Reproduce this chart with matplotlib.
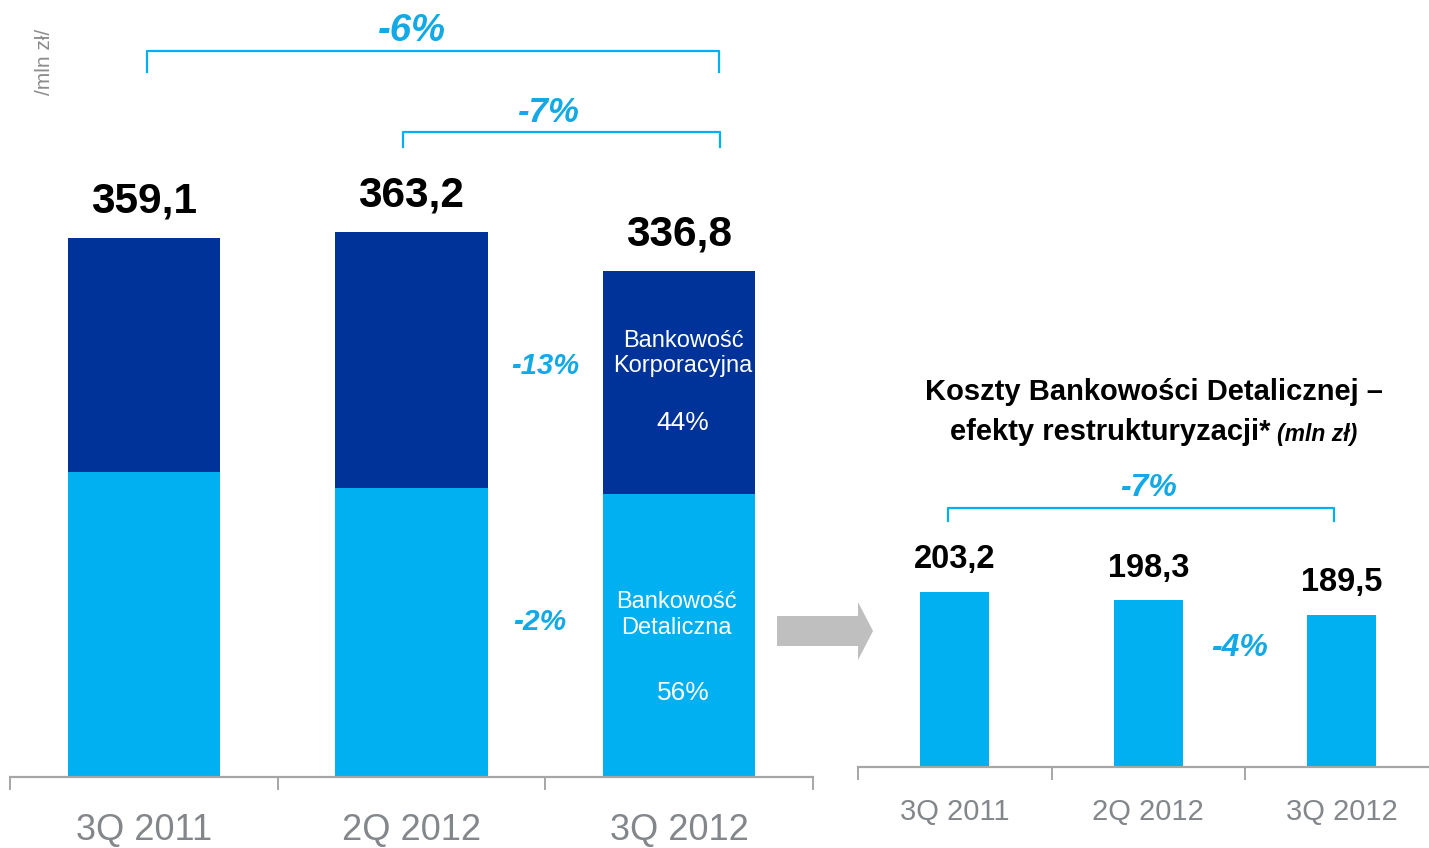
import matplotlib
matplotlib.use('Agg')
import matplotlib.pyplot as plt
from matplotlib.patches import Polygon

plt.rcParams['font.family'] = ['Liberation Sans', 'DejaVu Sans']

# dane (mln zł)
okresy = ['3Q 2011', '2Q 2012', '3Q 2012']
razem = [359.1, 363.2, 336.8]
detaliczna = [203.2, 192.4, 188.6]
korporacyjna = [r - d for r, d in zip(razem, detaliczna)]
razem_etykiety = ['359,1', '363,2', '336,8']

koszty_det = [203.2, 198.3, 189.5]
koszty_etykiety = ['203,2', '198,3', '189,5']

ciemny = '#003399'
jasny = '#00B0F0'
cyjan = '#13A9E6'
szary = '#A6A6A6'
szary_txt = '#83878B'

W, H = 1429, 848
fig = plt.figure(figsize=(W / 100, H / 100), dpi=100)


def px(x, y):
    return x / W, 1 - y / H


# lewy wykres
ax = fig.add_axes([10 / W, (H - 777) / H, 803 / W, 767 / H])
x = range(len(okresy))
ax.bar(x, detaliczna, width=0.57, color=jasny)
ax.bar(x, korporacyjna, bottom=detaliczna, width=0.57, color=ciemny)
ax.set_xlim(-0.5, 2.5)
ax.set_ylim(0, 511)
for s in ['top', 'left', 'right']:
    ax.spines[s].set_visible(False)
ax.spines['bottom'].set_color(szary)
ax.spines['bottom'].set_linewidth(1.6)
ax.set_yticks([])
ax.set_xticks(list(x))
ax.set_xticklabels(okresy, fontsize=26, color=szary_txt)
ax.tick_params(axis='x', which='major', length=0, pad=26)
ax.set_xticks([-0.5, 0.5, 1.5, 2.5], minor=True)
ax.tick_params(axis='x', which='minor', length=9, width=1.4, color=szary)

for i, v in enumerate(razem):
    ax.annotate(razem_etykiety[i], (i, v), xytext=(0, 12), textcoords='offset points',
                ha='center', va='bottom', fontsize=30.5, fontweight='bold')

ax.text(2.015, 282, 'Bankowość\nKorporacyjna', color='white', fontsize=17, ha='center', va='center')
ax.text(2.015, 236, '44%', color='white', fontsize=19, ha='center', va='center')
ax.text(1.99, 108, 'Bankowość\nDetaliczna', color='white', fontsize=17, ha='center', va='center')
ax.text(2.015, 56, '56%', color='white', fontsize=19, ha='center', va='center')

ax.text(1.5, 274, '-13%', color=cyjan, fontsize=21, fontweight='bold', style='italic', ha='center', va='center')
ax.text(1.48, 103, '-2%', color=cyjan, fontsize=21.5, fontweight='bold', style='italic', ha='center', va='center')

# klamry
ax.plot([0.011, 0.011, 2.149, 2.149], [470, 484, 484, 470], color=jasny, lw=1.6, clip_on=False)
ax.text(1.0, 497, '-6%', color=cyjan, fontsize=27.5, fontweight='bold', style='italic', ha='center', va='center')
ax.plot([0.970, 0.970, 2.153, 2.153], [420, 430, 430, 420], color=jasny, lw=1.6, clip_on=False)
ax.text(1.51, 443, '-7%', color=cyjan, fontsize=25, fontweight='bold', style='italic', ha='center', va='center')

fig.text(*px(45, 62), '/mln zł/', rotation=90, color='#8C8C8C', fontsize=15, ha='center', va='center')

# prawy wykres
ax2 = fig.add_axes([858 / W, (H - 767) / H, 580.5 / W, 397 / H])
ax2.bar(x, koszty_det, width=0.357, color=jasny)
ax2.set_xlim(-0.5, 2.5)
ax2.set_ylim(99, 335.3)
for s in ['top', 'left', 'right']:
    ax2.spines[s].set_visible(False)
ax2.spines['bottom'].set_color(szary)
ax2.spines['bottom'].set_linewidth(1.6)
ax2.set_yticks([])
ax2.set_xticks(list(x))
ax2.set_xticklabels(okresy, fontsize=21, color=szary_txt)
ax2.tick_params(axis='x', which='major', length=0, pad=22)
ax2.set_xticks([-0.5, 0.5, 1.5], minor=True)
ax2.tick_params(axis='x', which='minor', length=9, width=1.4, color=szary)

for i, v in enumerate(koszty_det):
    ax2.annotate(koszty_etykiety[i], (i, v), xytext=(0, 12), textcoords='offset points',
                 ha='center', va='bottom', fontsize=23.5, fontweight='bold')

ax2.plot([-0.035, -0.035, 1.96, 1.96], [245.4, 253.2, 253.2, 245.4], color=jasny, lw=1.6, clip_on=False)
ax2.text(1.004, 265, '-7%', color=cyjan, fontsize=23, fontweight='bold', style='italic', ha='center', va='center')
ax2.text(1.474, 170, '-4%', color=cyjan, fontsize=23, fontweight='bold', style='italic', ha='center', va='center')

fig.text(*px(1154, 392), 'Koszty Bankowości Detalicznej –', fontsize=21, fontweight='bold', ha='center', va='center')
fig.text(*px(1270, 432), 'efekty restrukturyzacji*', fontsize=21, fontweight='bold', ha='right', va='center')
fig.text(*px(1277, 434), '(mln zł)', fontsize=16.5, fontweight='bold', style='italic', ha='left', va='center')

# strzałka
pts = [(777, 616), (858, 616), (858, 602), (873, 631), (858, 660), (858, 646), (777, 646)]
fig.add_artist(Polygon([px(a, b) for a, b in pts], closed=True, transform=fig.transFigure,
                       facecolor='#BFBFBF', edgecolor='none'))

plt.savefig('out.png', dpi=100)
